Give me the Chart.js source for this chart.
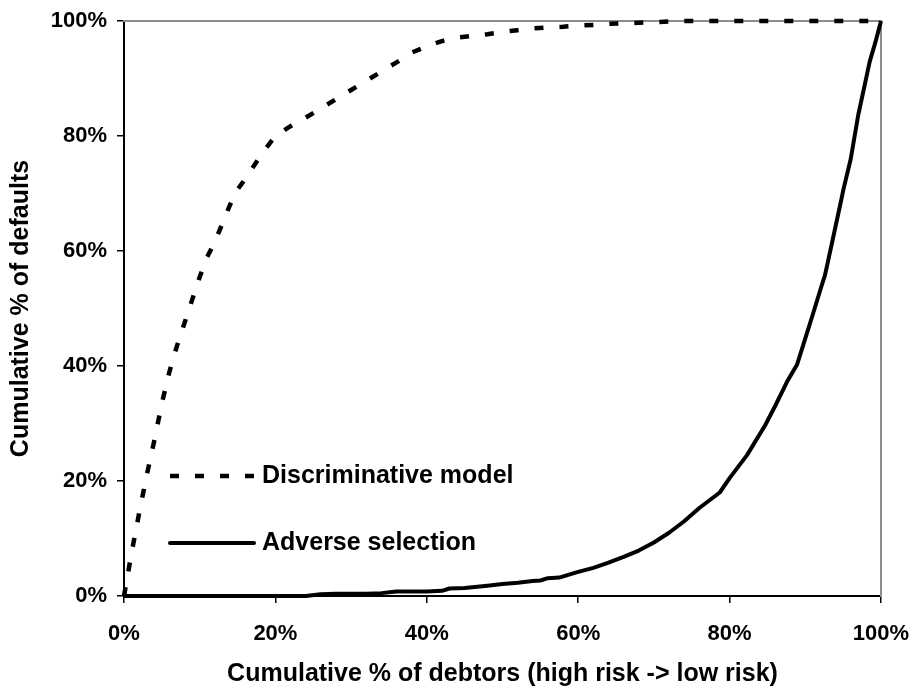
<!DOCTYPE html>
<html><head><meta charset="utf-8">
<script src="https://cdn.jsdelivr.net/npm/chart.js@4/dist/chart.umd.min.js"></script>
<style>html,body{margin:0;padding:0;background:#fff;overflow:hidden}</style>
</head><body>
<canvas id="c" width="915" height="689"></canvas>
<script>
// ---- data (percent) ----
const discLabel = 'Discriminative model';
const discX = [0, 1, 2, 3, 4, 5, 6, 7, 8, 9, 10, 11, 12, 13, 14, 15, 16, 17, 18, 19, 20, 22, 24, 26, 28, 30, 32, 34, 36, 38, 40, 42, 44, 46, 48, 50, 52, 54, 56, 58, 60, 62, 64, 66, 68, 70, 72, 74, 76, 80, 90, 100];
const discY = [0, 7.5, 14.4, 21, 27, 33.5, 39, 43.5, 47.5, 51.5, 55.5, 59, 61.6, 64.8, 68, 70.7, 72.5, 74.5, 76.5, 78.3, 80, 81.7, 83.2, 84.8, 86.4, 88, 89.6, 91.2, 92.8, 94.5, 95.6, 96.5, 97.1, 97.4, 97.7, 98.1, 98.4, 98.7, 98.9, 99, 99.2, 99.3, 99.5, 99.6, 99.7, 99.8, 99.9, 100, 100, 100, 100, 100];

const advLabel = 'Adverse selection';
const advX = [0, 10, 20, 24, 26, 28, 30, 32, 34, 36, 38, 40, 42, 43, 45, 48, 50, 52, 54, 55, 56, 57.5, 59, 60, 62, 64, 66, 68, 70, 72, 74, 76, 78.7, 80, 82.3, 84.7, 86, 87.6, 88.9, 90, 91, 92, 92.6, 93, 94, 94.8, 95, 96, 97, 98, 98.5, 99.3, 100];
const advY = [0, 0, 0, 0, 0.3, 0.4, 0.4, 0.4, 0.5, 0.8, 0.8, 0.8, 0.9, 1.3, 1.4, 1.8, 2.1, 2.3, 2.6, 2.7, 3.1, 3.2, 3.8, 4.2, 4.9, 5.8, 6.8, 7.9, 9.3, 11.0, 13.0, 15.3, 18.0, 20.5, 24.5, 29.7, 33, 37.3, 40.2, 44.8, 49, 53.3, 55.8, 58.2, 64.3, 69.2, 70.5, 76, 83.7, 89.8, 92.9, 96.5, 100];

const xTitle = 'Cumulative % of debtors (high risk -> low risk)';
const yTitle = 'Cumulative % of defaults';
const tickStep = 20;

// ---- drawing ----
const FONT = '"Liberation Sans", Arial, sans-serif';
const pts = (xs, ys) => xs.map((x, i) => ({x: x, y: ys[i]}));

const LEG = {x0: 170, x1: 255, tx: 262, ys: [476, 543]};
const inlineLegend = {
  id: 'inlineLegend',
  afterDatasetsDraw(chart) {
    const ctx = chart.ctx;
    chart.data.datasets.forEach((ds, i) => {
      const y = LEG.ys[i];
      ctx.save();
      ctx.strokeStyle = ds.borderColor;
      ctx.lineWidth = ds.borderWidth;
      ctx.setLineDash(ds.borderDash || []);
      ctx.lineCap = ds.borderDash ? 'butt' : 'round';
      ctx.beginPath();
      ctx.moveTo(LEG.x0, y);
      ctx.lineTo(ds.borderDash ? LEG.x1 : LEG.x1 - 1, y);
      ctx.stroke();
      ctx.setLineDash([]);
      ctx.fillStyle = '#000';
      ctx.font = 'bold 25px ' + FONT;
      ctx.textBaseline = 'middle';
      ctx.textAlign = 'left';
      ctx.fillText(ds.label, LEG.tx, y);
      ctx.restore();
    });
  }
};

const tickFont = {family: FONT, size: 22, weight: 'bold'};
const titleFont = {family: FONT, size: 25, weight: 'bold'};

new Chart(document.getElementById('c'), {
  type: 'line',
  data: {
    datasets: [
      {label: discLabel, data: pts(discX, discY), xAxisID: 'x', yAxisID: 'y',
       borderColor: '#000', borderWidth: 4.5, borderDash: [9, 16], borderCapStyle: 'butt',
       pointRadius: 0, tension: 0, fill: false, clip: false},
      {label: advLabel, data: pts(advX, advY), xAxisID: 'x', yAxisID: 'y',
       borderColor: '#000', borderWidth: 4, borderJoinStyle: 'round',
       pointRadius: 0, tension: 0, fill: false, clip: false}
    ]
  },
  options: {
    responsive: false, animation: false, devicePixelRatio: 1,
    layout: {padding: {top: 21, right: 34, left: 0, bottom: 0}},
    plugins: {legend: {display: false}, tooltip: {enabled: false}},
    scales: {
      x: {type: 'linear', min: 0, max: 100, position: 'bottom',
          ticks: {stepSize: tickStep, callback: v => v + '%', font: tickFont, color: '#000', padding: 18, maxRotation: 0},
          grid: {display: true, drawOnChartArea: false, drawTicks: true, tickLength: 7, color: '#000', lineWidth: 1.5},
          border: {display: true, color: '#000', width: 2},
          title: {display: true, text: xTitle, font: titleFont, color: '#000', padding: {top: 0, bottom: 0}},
          afterFit: s => { s.height = 93; s.paddingLeft = 0; s.paddingRight = 0; }},
      y: {type: 'linear', min: 0, max: 100, position: 'left',
          ticks: {stepSize: tickStep, callback: v => v + '%', font: tickFont, color: '#000', padding: 10},
          grid: {display: true, drawOnChartArea: false, drawTicks: true, tickLength: 7, color: '#000', lineWidth: 1.5},
          border: {display: true, color: '#000', width: 2},
          title: {display: true, text: yTitle, font: titleFont, color: '#000', padding: {top: 6, bottom: 0}},
          afterFit: s => { s.width = 124; s.paddingTop = 0; s.paddingBottom = 0; }},
      x2: {type: 'linear', min: 0, max: 100, position: 'top',
           ticks: {display: false}, grid: {display: true, drawOnChartArea: false, drawTicks: false},
           border: {display: true, color: '#8c8c8c', width: 2},
           afterFit: s => { s.height = 0; }},
      y2: {type: 'linear', min: 0, max: 100, position: 'right',
           ticks: {display: false}, grid: {display: true, drawOnChartArea: false, drawTicks: false},
           border: {display: true, color: '#8c8c8c', width: 2},
           afterFit: s => { s.width = 0; }}
    }
  },
  plugins: [inlineLegend]
});
</script>
</body></html>
